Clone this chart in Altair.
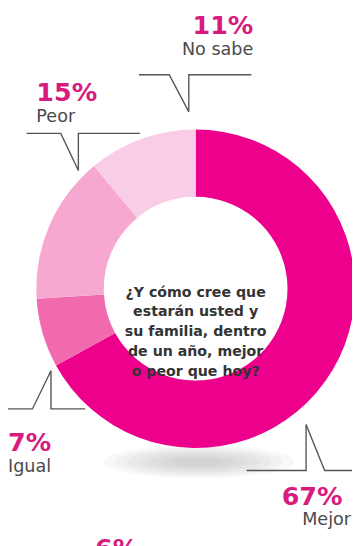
import altair as alt
import pandas as pd

# ---- data ----
categories = ["Mejor", "Igual", "Peor", "No sabe"]
values = [67, 7, 15, 11]
colors = ["#ec008c", "#f26aae", "#f7a8d0", "#f9cde6"]
question = "¿Y cómo cree que\nestarán usted y\nsu familia, dentro\nde un año, mejor\no peor que hoy?"
cut_label = "6%"  # fragment of neighbouring chart at the bottom edge

# ---- layout (page pixel coordinates) ----
OFF = 8
W, H = 352, 538
CX, CY = 200, 289
R_OUT, R_IN = 163, 94

label_pos = {  # category: (x, pct_baseline, name_baseline, align)
    "No sabe": (259, 28, 50, "right"),
    "Peor": (37, 97, 118, "left"),
    "Igual": (8, 455, 477, "left"),
    "Mejor": (288, 510, 531, "left"),
}
name_dx = {"No sabe": 0, "Peor": 0, "Igual": 0, "Mejor": 21}

callouts = {
    "No sabe": [(142, 70), (173, 70), (193, 108), (193, 70), (257, 70)],
    "Peor": [(27, 130), (62, 130), (80, 168), (80, 130), (143, 130)],
    "Igual": [(8, 412), (33, 412), (52, 373), (52, 412), (87, 412)],
    "Mejor": [(252, 475), (313, 475), (313, 428), (332, 475), (362, 475)],
}

# soft shadow under the ring: stacked translucent ellipses (half-widths in px)
shadow_half_widths = [98, 86, 74, 62, 50, 38, 26]
SH_X, SH_Y = 203, 466
ELLIPSE = "M -1 0 A 1 0.17 0 1 0 1 0 A 1 0.17 0 1 0 -1 0 Z"

xs = alt.Scale(domain=[OFF, OFF + W], range=[0, W], nice=False, zero=False)
ys = alt.Scale(domain=[OFF, OFF + H], range=[0, H], nice=False, zero=False)

df = pd.DataFrame({"cat": categories, "val": values, "order": list(range(len(categories)))})

sh_df = pd.DataFrame({"hw": shadow_half_widths})
sh_df["s"] = (2 * sh_df["hw"]) ** 2
shadow = alt.Chart(sh_df).mark_point(
    shape=ELLIPSE, filled=True, color="#8a8a8a", opacity=0.06, strokeWidth=0,
).encode(
    x=alt.value(SH_X - OFF), y=alt.value(SH_Y - OFF),
    size=alt.Size("s:Q", scale=None, legend=None),
)

ring = alt.Chart(df).mark_arc(radius=R_OUT, radius2=R_IN, strokeWidth=0).encode(
    theta=alt.Theta("val:Q", stack=True),
    color=alt.Color("cat:N", scale=alt.Scale(domain=categories, range=colors), legend=None),
    order=alt.Order("order:Q"),
    x=alt.value(CX - OFF),
    y=alt.value(CY - OFF),
)

center = alt.Chart(pd.DataFrame({"t": [question]})).mark_text(
    font="DejaVu Sans", fontWeight="bold", fontSize=14.5, color="#333333",
    align="center", baseline="middle", lineBreak="\n", lineHeight=20.3,
).encode(text="t:N", x=alt.value(CX - OFF), y=alt.value(293 - OFF))

rows = []
for cat, pts in callouts.items():
    for i, (px, py) in enumerate(pts):
        rows.append({"g": cat, "i": i, "x": px, "y": py})
lines = alt.Chart(pd.DataFrame(rows)).mark_line(color="#555555", strokeWidth=1.4).encode(
    x=alt.X("x:Q", scale=xs, axis=None),
    y=alt.Y("y:Q", scale=ys, axis=None),
    detail="g:N",
    order="i:Q",
)

lab = []
for cat, v in zip(categories, values):
    x, pb, nb, al = label_pos[cat]
    lab.append({"cat": cat, "pct": f"{v}%", "x": x, "xn": x + name_dx[cat], "pb": pb, "nb": nb, "al": al})
lab_df = pd.DataFrame(lab)

pct_layers = []
name_layers = []
for al in ["left", "right"]:
    sub = lab_df[lab_df.al == al]
    pct_layers.append(alt.Chart(sub).mark_text(
        font="DejaVu Sans", fontWeight="bold", fontSize=26, color="#d81b7f",
        align=al, baseline="alphabetic",
    ).encode(x=alt.X("x:Q", scale=xs, axis=None), y=alt.Y("pb:Q", scale=ys, axis=None), text="pct:N"))
    name_layers.append(alt.Chart(sub).mark_text(
        font="DejaVu Sans", fontSize=18, color="#4a4a4a",
        align=al, baseline="alphabetic",
    ).encode(x=alt.X("xn:Q", scale=xs, axis=None), y=alt.Y("nb:Q", scale=ys, axis=None), text="cat:N"))

cut = alt.Chart(pd.DataFrame({"t": [cut_label]})).mark_text(
    font="DejaVu Sans", fontWeight="bold", fontSize=26, color="#d81b7f",
    align="left", baseline="alphabetic",
).encode(text="t:N", x=alt.value(97 - OFF), y=alt.value(563 - OFF))

chart = alt.layer(shadow, ring, center, lines, *pct_layers, *name_layers, cut).properties(
    width=W, height=H,
    autosize=alt.AutoSizeParams(type="none"),
    padding=0,
    background="white",
).configure_view(stroke=None)

chart.save("out.html", embed_options={"renderer": "svg", "actions": False})
